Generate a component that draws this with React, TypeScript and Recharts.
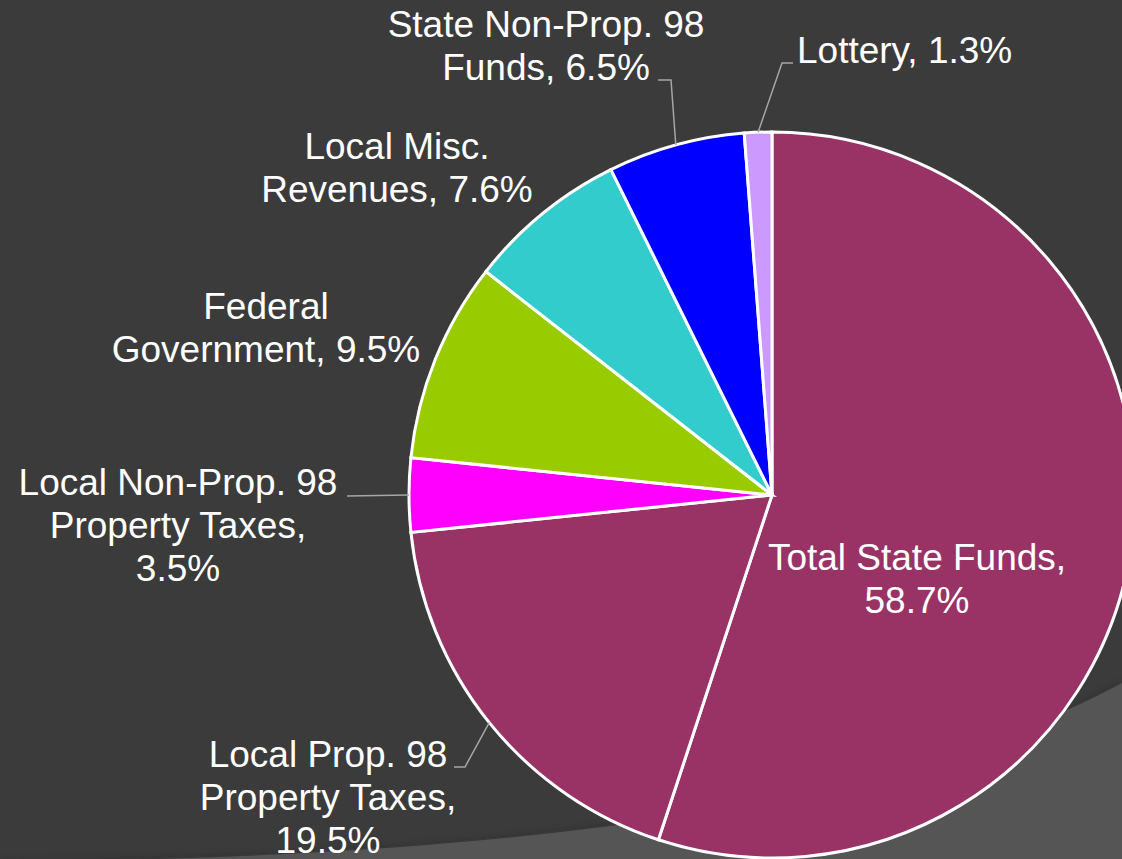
import { Cell, Pie, PieChart } from "recharts";

const categories = [
  "Total State Funds",
  "Local Prop. 98 Property Taxes",
  "Local Non-Prop. 98 Property Taxes",
  "Federal Government",
  "Local Misc. Revenues",
  "State Non-Prop. 98 Funds",
  "Lottery",
];
const shares = [58.7, 19.5, 3.5, 9.5, 7.6, 6.5, 1.3];
const colors = ["#993366", "#993366", "#FF00FF", "#99CC00", "#33CCCC", "#0000FF", "#CC99FF"];
// how many words go on each label line
const wordsPerLine = [[3, 1], [3, 2, 1], [3, 2, 1], [1, 2], [2, 2], [3, 2], [2]];

const data = categories.map((name, i) => ({ name, value: shares[i] }));

// label placement, relative to the pie centre
type Lay = { dx: number; dy: number; anchor: "start" | "middle" | "end"; leader?: [number, number][] };
const labelLayout: Lay[] = [
  { dx: 145, dy: 75, anchor: "middle" },
  { dx: -444, dy: 272, anchor: "middle", leader: [[-307, 272], [-318, 272]] },
  { dx: -594, dy: 0, anchor: "middle", leader: [[-425, 1]] },
  { dx: -506, dy: -176, anchor: "middle" },
  { dx: -375, dy: -336, anchor: "middle" },
  { dx: -226, dy: -458, anchor: "middle", leader: [[-101, -415], [-114, -415]] },
  { dx: 25, dy: -432, anchor: "start", leader: [[10, -432], [21, -432]] },
];

const RAD = Math.PI / 180;
const FONT = 37;
const LINE = 43;

function renderLabel(props: any) {
  const { cx, cy, midAngle, outerRadius, index } = props;
  const d = props.payload ?? {};
  const name = d.name ?? props.name;
  const value = Number(d.value ?? props.value);
  const lay = labelLayout[index];
  const words = `${name}, ${value.toFixed(1)}%`.split(" ");
  const lines: string[] = [];
  let k = 0;
  for (const n of wordsPerLine[index]) {
    lines.push(words.slice(k, k + n).join(" "));
    k += n;
  }
  const ax = cx + outerRadius * Math.cos(-midAngle * RAD);
  const ay = cy + outerRadius * Math.sin(-midAngle * RAD);
  const tx = cx + lay.dx;
  const ty = cy + lay.dy;
  return (
    <g key={`lbl-${index}`}>
      {lay.leader && (
        <polyline
          points={[[ax, ay], ...lay.leader.map(([x, y]) => [cx + x, cy + y])].map((p) => p.join(",")).join(" ")}
          fill="none"
          stroke="#a6a6a6"
          strokeWidth={1.5}
        />
      )}
      <text x={tx} y={ty} textAnchor={lay.anchor} fill="#ffffff" fontSize={FONT} fontFamily="'Liberation Sans', Arial, sans-serif">
        {lines.map((l, i) => (
          <tspan key={i} x={tx} dy={i === 0 ? 0 : LINE}>
            {l}
          </tspan>
        ))}
      </text>
    </g>
  );
}

export default function App() {
  return (
    <div style={{ position: "fixed", left: 0, top: 0, width: 1122, height: 859, background: "#3b3b3b", overflow: "hidden" }}>
      <svg width={1122} height={859} style={{ position: "absolute", left: 0, top: 0 }}>
        <defs>
          <filter id="bandShadow" x="-10%" y="-30%" width="120%" height="160%">
            <feGaussianBlur stdDeviation="6" />
          </filter>
        </defs>
        <path d="M 0 866 C 400 862, 850 834, 1122 687 L 1122 880 L 0 880 Z" fill="#1f1f1f" opacity={0.55} filter="url(#bandShadow)" />
        <path d="M 0 862 C 400 858, 850 830, 1122 683 L 1122 859 L 0 859 Z" fill="#555555" />
      </svg>
      <div style={{ position: "absolute", left: 0, top: 0 }}>
        <PieChart width={1122} height={859} margin={{ top: 0, right: 0, bottom: 0, left: 0 }}>
          <Pie
            data={data}
            dataKey="value"
            nameKey="name"
            cx={772}
            cy={495}
            outerRadius={363}
            startAngle={90}
            endAngle={-270}
            stroke="#ffffff"
            strokeWidth={3}
            label={renderLabel}
            labelLine={false}
            isAnimationActive={false}
          >
            {data.map((_, i) => (
              <Cell key={i} fill={colors[i]} />
            ))}
          </Pie>
        </PieChart>
      </div>
    </div>
  );
}
